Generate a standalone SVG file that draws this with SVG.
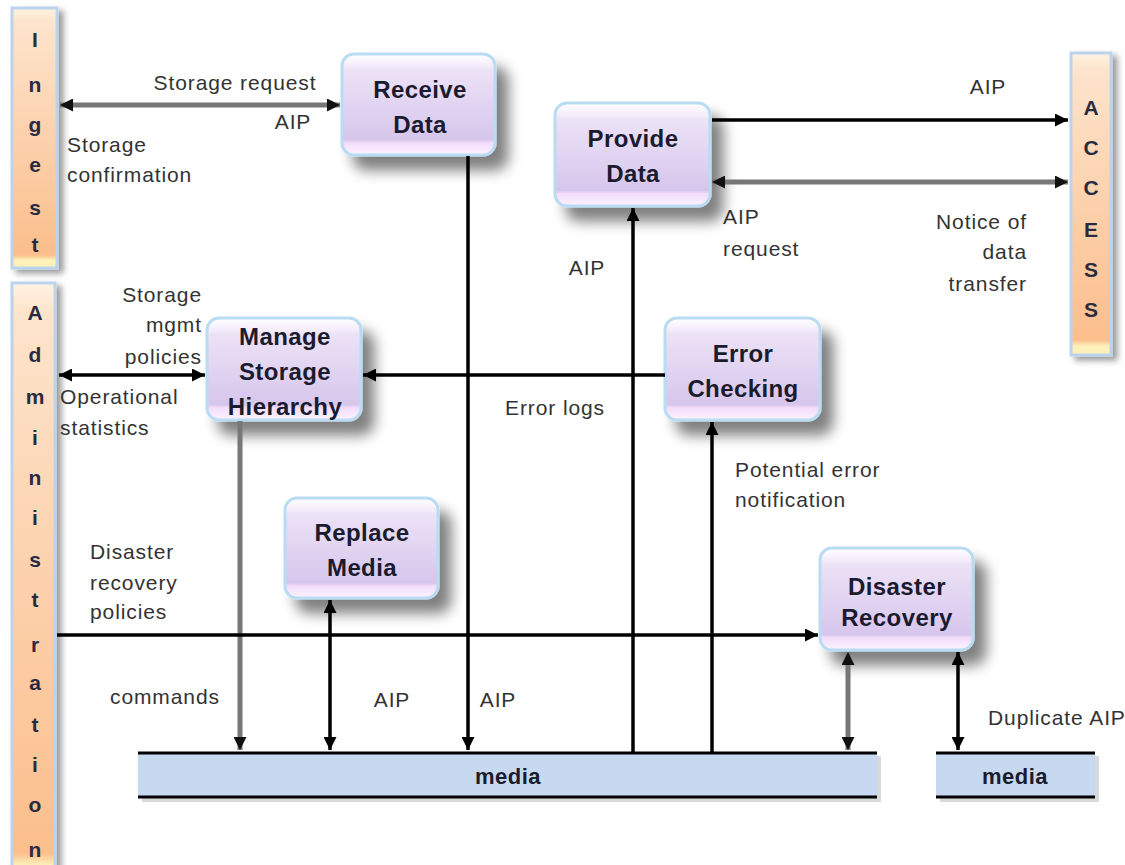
<svg xmlns="http://www.w3.org/2000/svg" width="1125" height="865" viewBox="0 0 1125 865">
<defs>
<linearGradient id="boxg" x1="0" y1="0" x2="0" y2="1">
<stop offset="0" stop-color="#ffffff"/>
<stop offset="0.12" stop-color="#f4ecfa"/>
<stop offset="0.16" stop-color="#ece2f6"/>
<stop offset="0.85" stop-color="#d6c6ec"/>
<stop offset="0.88" stop-color="#f3dcfb"/>
<stop offset="1" stop-color="#fbf4fd"/>
</linearGradient>
<linearGradient id="barg" x1="0" y1="0" x2="0" y2="1">
<stop offset="0" stop-color="#fff3e2"/>
<stop offset="0.05" stop-color="#fde4cc"/>
<stop offset="0.95" stop-color="#fbbe8c"/>
<stop offset="0.97" stop-color="#fdf0b8"/>
<stop offset="1" stop-color="#fdf0b8"/>
</linearGradient>
<filter id="sh" x="-20%" y="-20%" width="150%" height="160%">
<feGaussianBlur in="SourceAlpha" stdDeviation="7"/>
<feOffset dx="12" dy="14" result="b"/>
<feComponentTransfer><feFuncA type="linear" slope="0.5"/></feComponentTransfer>
<feMerge><feMergeNode/><feMergeNode in="SourceGraphic"/></feMerge>
</filter>
<filter id="sh2" x="-20%" y="-20%" width="160%" height="140%">
<feGaussianBlur in="SourceAlpha" stdDeviation="3"/>
<feOffset dx="5" dy="4"/>
<feComponentTransfer><feFuncA type="linear" slope="0.4"/></feComponentTransfer>
<feMerge><feMergeNode/><feMergeNode in="SourceGraphic"/></feMerge>
</filter>
<marker id="ab" viewBox="0 0 10 10" refX="10" refY="5" markerWidth="14" markerHeight="13" markerUnits="userSpaceOnUse" orient="auto-start-reverse">
<path d="M0,0 L10,5 L0,10 z" fill="#000"/>
</marker>
<marker id="ag" viewBox="0 0 10 10" refX="10" refY="5" markerWidth="14" markerHeight="13" markerUnits="userSpaceOnUse" orient="auto-start-reverse">
<path d="M0,0 L10,5 L0,10 z" fill="#111"/>
</marker>
</defs>
<style>
.box{fill:url(#boxg);stroke:#b9dcf3;stroke-width:3}
.bar{fill:url(#barg);stroke:#bcd3ee;stroke-width:3}
.bt{font-family:"Liberation Sans",Arial,sans-serif;font-weight:bold;font-size:24px;letter-spacing:0.4px;fill:#1b1b2e;text-anchor:middle}
.lt{font-family:"Liberation Sans",Arial,sans-serif;font-weight:bold;font-size:21px;fill:#2a2a40;text-anchor:middle}
.lb{font-family:"Liberation Sans",Arial,sans-serif;font-size:21px;letter-spacing:0.9px;fill:#333}
.med{fill:#c6d9f0}
.mt{font-family:"Liberation Sans",Arial,sans-serif;font-weight:bold;font-size:22px;letter-spacing:0.5px;fill:#1b1b2e;text-anchor:middle}
.k{stroke:#000;stroke-width:3.5;fill:none}
.g{stroke:#777;stroke-width:5;fill:none}
</style>
<rect width="1125" height="865" fill="#fff"/>

<g id="ingest">
<rect class="bar" x="12" y="8" width="45" height="260" filter="url(#sh2)"/>
<text class="lt" x="35" y="47">I</text>
<text class="lt" x="35" y="92">n</text>
<text class="lt" x="35" y="132">g</text>
<text class="lt" x="35" y="172">e</text>
<text class="lt" x="35" y="215">s</text>
<text class="lt" x="35" y="252">t</text>
</g>

<g id="administration">
<rect class="bar" x="12" y="283" width="43" height="600" filter="url(#sh2)"/>
<text class="lt" x="35" y="320">A</text>
<text class="lt" x="35" y="362">d</text>
<text class="lt" x="35" y="404">m</text>
<text class="lt" x="35" y="445">i</text>
<text class="lt" x="35" y="485">n</text>
<text class="lt" x="35" y="525">i</text>
<text class="lt" x="35" y="567">s</text>
<text class="lt" x="35" y="607">t</text>
<text class="lt" x="35" y="652">r</text>
<text class="lt" x="35" y="690">a</text>
<text class="lt" x="35" y="732">t</text>
<text class="lt" x="35" y="772">i</text>
<text class="lt" x="35" y="812">o</text>
<text class="lt" x="35" y="857">n</text>
</g>

<g id="access">
<rect class="bar" x="1071" y="53" width="40" height="302" filter="url(#sh2)"/>
<text class="lt" x="1091" y="115">A</text>
<text class="lt" x="1091" y="155">C</text>
<text class="lt" x="1091" y="195">C</text>
<text class="lt" x="1091" y="237">E</text>
<text class="lt" x="1091" y="277">S</text>
<text class="lt" x="1091" y="317">S</text>
</g>

<g id="receive-data">
<rect class="box" x="342" y="54" width="153" height="101" rx="12" filter="url(#sh)"/>
<text class="bt" x="420" y="98">Receive</text>
<text class="bt" x="420" y="133">Data</text>
</g>

<g id="provide-data">
<rect class="box" x="555" y="103" width="155" height="103" rx="12" filter="url(#sh)"/>
<text class="bt" x="633" y="147">Provide</text>
<text class="bt" x="633" y="182">Data</text>
</g>

<g id="manage-storage-hierarchy">
<rect class="box" x="207" y="318" width="154" height="102" rx="12" filter="url(#sh)"/>
<text class="bt" x="285" y="345">Manage</text>
<text class="bt" x="285" y="380">Storage</text>
<text class="bt" x="285" y="415">Hierarchy</text>
</g>

<g id="error-checking">
<rect class="box" x="665" y="318" width="155" height="102" rx="12" filter="url(#sh)"/>
<text class="bt" x="743" y="362">Error</text>
<text class="bt" x="743" y="397">Checking</text>
</g>

<g id="replace-media">
<rect class="box" x="285" y="498" width="153" height="100" rx="12" filter="url(#sh)"/>
<text class="bt" x="362" y="541">Replace</text>
<text class="bt" x="362" y="576">Media</text>
</g>

<g id="disaster-recovery">
<rect class="box" x="820" y="548" width="153" height="102" rx="12" filter="url(#sh)"/>
<text class="bt" x="897" y="595">Disaster</text>
<text class="bt" x="897" y="626">Recovery</text>
</g>

<g id="media-1">
<rect x="142" y="756" width="739" height="46" fill="#d9d9d9"/>
<rect class="med" x="138" y="752" width="739" height="45"/>
<line x1="138" y1="753" x2="877" y2="753" stroke="#000" stroke-width="3"/>
<line x1="138" y1="797" x2="877" y2="797" stroke="#000" stroke-width="3"/>
<text class="mt" x="508" y="784">media</text>
</g>

<g id="media-2">
<rect x="940" y="756" width="159" height="46" fill="#d9d9d9"/>
<rect class="med" x="936" y="752" width="159" height="45"/>
<line x1="936" y1="753" x2="1095" y2="753" stroke="#000" stroke-width="3"/>
<line x1="936" y1="797" x2="1095" y2="797" stroke="#000" stroke-width="3"/>
<text class="mt" x="1015" y="784">media</text>
</g>

<g id="connectors">
<line class="g" x1="60" y1="105" x2="340" y2="105" marker-start="url(#ag)" marker-end="url(#ag)"/>
<line class="k" x1="468" y1="156" x2="468" y2="750" marker-end="url(#ab)"/>
<line class="k" x1="712" y1="120" x2="1068" y2="120" marker-end="url(#ab)"/>
<line class="g" x1="712" y1="182" x2="1068" y2="182" marker-start="url(#ag)" marker-end="url(#ag)"/>
<line class="k" x1="633" y1="752" x2="633" y2="208" marker-end="url(#ab)"/>
<line class="k" x1="665" y1="375" x2="363" y2="375" marker-end="url(#ab)"/>
<line class="k" x1="59" y1="375" x2="205" y2="375" marker-start="url(#ab)" marker-end="url(#ab)"/>
<line class="k" x1="712" y1="752" x2="712" y2="422" marker-end="url(#ab)"/>
<line class="g" x1="240" y1="421" x2="240" y2="750" marker-end="url(#ag)"/>
<line class="k" x1="330" y1="600" x2="330" y2="750" marker-start="url(#ab)" marker-end="url(#ab)"/>
<line class="k" x1="57" y1="635" x2="818" y2="635" marker-end="url(#ab)"/>
<line class="g" x1="848" y1="652" x2="848" y2="750" marker-start="url(#ag)" marker-end="url(#ag)"/>
<line class="k" x1="958" y1="652" x2="958" y2="750" marker-start="url(#ab)" marker-end="url(#ab)"/>
</g>

<g id="labels">
<text class="lb" x="235" y="90" text-anchor="middle">Storage request</text>
<text class="lb" x="293" y="129" text-anchor="middle">AIP</text>
<text class="lb" x="67" y="152">Storage</text>
<text class="lb" x="67" y="182">confirmation</text>
<text class="lb" x="988" y="94" text-anchor="middle">AIP</text>
<text class="lb" x="723" y="224">AIP</text>
<text class="lb" x="723" y="256">request</text>
<text class="lb" x="587" y="275" text-anchor="middle">AIP</text>
<text class="lb" x="1027" y="229" text-anchor="end">Notice of</text>
<text class="lb" x="1027" y="259" text-anchor="end">data</text>
<text class="lb" x="1027" y="291" text-anchor="end">transfer</text>
<text class="lb" x="202" y="302" text-anchor="end">Storage</text>
<text class="lb" x="202" y="332" text-anchor="end">mgmt</text>
<text class="lb" x="202" y="364" text-anchor="end">policies</text>
<text class="lb" x="60" y="404">Operational</text>
<text class="lb" x="60" y="435">statistics</text>
<text class="lb" x="555" y="415" text-anchor="middle">Error logs</text>
<text class="lb" x="735" y="477">Potential error</text>
<text class="lb" x="735" y="507">notification</text>
<text class="lb" x="90" y="559">Disaster</text>
<text class="lb" x="90" y="590">recovery</text>
<text class="lb" x="90" y="619">policies</text>
<text class="lb" x="110" y="704">commands</text>
<text class="lb" x="392" y="707" text-anchor="middle">AIP</text>
<text class="lb" x="498" y="707" text-anchor="middle">AIP</text>
<text class="lb" x="988" y="725">Duplicate AIP</text>
</g>
</svg>
